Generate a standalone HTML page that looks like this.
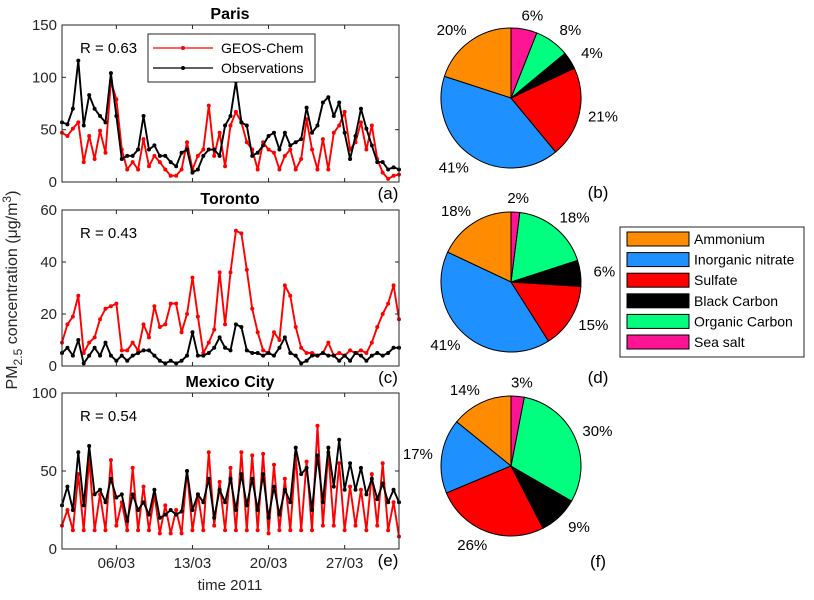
<!DOCTYPE html>
<html><head><meta charset="utf-8"><style>
body{margin:0;background:#fff}
svg{display:block;font-family:"Liberation Sans",sans-serif}
</style></head><body>
<svg id="fig" width="814" height="600" viewBox="0 0 814 600">
<rect width="814" height="600" fill="#fff"/>
<text x="17" y="290" transform="rotate(-90 17 290)" text-anchor="middle" font-size="16" fill="#262626">PM<tspan font-size="12" dy="5">2.5</tspan><tspan dy="-5"> concentration (μg/m</tspan><tspan font-size="12" dy="-6">3</tspan><tspan dy="6">)</tspan></text>
<text x="230" y="590" text-anchor="middle" font-size="15" fill="#262626">time 2011</text>
<g id="g"></g>
</svg>
<script>
const parisObs=[57,55,70,116,54,83,70,63,57,104,63,22,25,25,31,63,31,35,25,25,19,15,28,31,9,12,25,31,31,25,54,63,96,57,54,25,28,35,44,47,31,47,35,38,41,71,47,54,76,81,63,76,47,22,44,70,51,35,19,19,12,14,12];
const parisModel=[47,44,51,57,19,44,22,49,28,96,79,31,12,19,12,41,15,25,19,12,6,6,12,38,12,25,31,73,25,47,15,54,67,57,38,31,12,38,31,28,12,25,31,12,22,60,31,12,41,12,47,54,67,31,38,57,31,54,22,9,3,6,7];
const torObs=[5,7,4,10,1,4,7,4,9,4,2,4,2,4,5,6,6,4,2,1,2,1,2,4,13,4,4,5,7,11,7,6,16,15,6,5,5,4,5,4,7,11,5,4,1,2,4,4,5,4,4,2,4,2,5,4,2,4,5,4,5,7,7];
const torModel=[9,16,19,27,5,9,11,18,22,23,24,6,6,9,6,16,11,23,15,16,24,24,13,20,34,19,5,9,14,36,16,36,52,51,37,22,13,6,5,13,10,31,27,15,7,5,5,4,5,9,4,5,4,6,5,6,5,9,15,20,24,31,18];
const mexObs=[28,40,25,62,28,66,35,38,30,45,33,35,18,35,25,30,22,38,20,22,25,22,24,50,25,35,30,45,20,38,30,45,25,48,28,45,25,48,20,40,22,38,30,65,48,52,25,60,30,65,40,70,38,55,38,52,35,45,32,42,30,38,30];
const mexModel=[15,25,12,48,12,58,12,35,12,57,15,30,12,52,12,40,12,35,10,28,10,25,10,50,12,35,12,62,15,43,12,52,12,62,12,60,12,61,10,54,12,45,12,60,12,56,12,79,15,62,15,55,12,40,15,38,12,48,15,55,12,30,8];
const xTickDays=[5,12,19,26];
const xTickLabels=["06/03","13/03","20/03","27/03"];
const pieLabels=["Ammonium","Inorganic nitrate","Sulfate","Black Carbon","Organic Carbon","Sea salt"];
const pieColors=["#ff8c00","#1e90ff","#ff0000","#000000","#00ff7f","#ff1493"];
const pieB=[20,41,21,4,8,6];
const pieD=[18,41,15,6,18,2];
const pieF=[14,17,26,9,30,3];

const NS="http://www.w3.org/2000/svg";
const G=document.getElementById('g');
function mk(t,a,p){const e=document.createElementNS(NS,t);for(const k in a)e.setAttribute(k,a[k]);(p||G).appendChild(e);return e;}
const X0=62,X1=399,DAYS=31;
function xs(d){return X0+(X1-X0)*d/DAYS;}

function panel(name,top,bot,ymax,yticks,obs,model,R,tag,showX,title){
  const g=mk('g',{});
  
  
  const ys=v=>bot-(bot-top)*v/ymax;
  function series(arr,col,nm){
    const pts=arr.map((v,i)=>xs(i*0.5).toFixed(1)+','+ys(v).toFixed(1)).join(' ');
    const l=mk('polyline',{points:pts,fill:'none',stroke:col,'stroke-width':1.9,'stroke-linejoin':'round'},g);
    
    
    arr.forEach((v,i)=>{const c=mk('circle',{cx:xs(i*0.5),cy:ys(v),r:2,fill:col},g);
      
      });
  }
  series(model,'#ff0000','geos-chem');
  series(obs,'#000000','observations');
  const fr=mk('rect',{x:X0,y:top,width:X1-X0,height:bot-top,fill:'none',stroke:'#262626','stroke-width':1},g);
  
  
  yticks.forEach(v=>{const y=ys(v);
    mk('line',{x1:X0,x2:X0+4,y1:y,y2:y,stroke:'#262626'},g);
    mk('line',{x1:X1,x2:X1-4,y1:y,y2:y,stroke:'#262626'},g);
    const t=mk('text',{x:X0-5,y:y+5,'text-anchor':'end','font-size':15,fill:'#262626'},g);t.textContent=v;
    
    });
  xTickDays.forEach((d,i)=>{const x=xs(d);
    mk('line',{x1:x,x2:x,y1:bot,y2:bot-4,stroke:'#262626'},g);
    mk('line',{x1:x,x2:x,y1:top,y2:top+4,stroke:'#262626'},g);
    if(showX){const t=mk('text',{x:x,y:bot+19,'text-anchor':'middle','font-size':15,fill:'#262626'},g);t.textContent=xTickLabels[i];
      
      }});
  const tt=mk('text',{x:230,y:top-6,'text-anchor':'middle','font-size':16,'font-weight':'bold',fill:'#000'},g);tt.textContent=title;
  
  
  const rt=mk('text',{x:80,y:top+28,'font-size':15,fill:'#000'},g);rt.textContent='R = '+R;
  
  
  const tg=mk('text',{x:388,y:bot+17,'text-anchor':'middle','font-size':17,fill:'#000'},g);tg.textContent=tag;
  
  
}
panel('paris',25,182,150,[0,50,100,150],parisObs,parisModel,'0.63','(a)',false,'Paris');
panel('toronto',210,366,60,[0,20,40,60],torObs,torModel,'0.43','(c)',false,'Toronto');
panel('mexico',393,549,100,[0,50,100],mexObs,mexModel,'0.54','(e)',true,'Mexico City');

const lg=mk('g',{});


mk('rect',{x:148,y:34,width:167,height:48,fill:'#fff',stroke:'#262626'},lg);
[['GEOS-Chem','#ff0000',48],['Observations','#000',68]].forEach(([n,c,y])=>{
  mk('line',{x1:153,x2:213,y1:y,y2:y,stroke:c,'stroke-width':1.3},lg);
  mk('circle',{cx:183,cy:y,r:2,fill:c},lg);
  const t=mk('text',{x:221,y:y+5,'font-size':14,fill:'#000'},lg);t.textContent=n;
  
  
});

function pie(name,cx,cy,r,vals,tag,tagY){
  const g=mk('g',{});
  
  
  const tot=vals.reduce((a,b)=>a+b,0);
  let cum=0;
  vals.forEach((v,i)=>{
    const a0=cum/tot*2*Math.PI, a1=(cum+v)/tot*2*Math.PI; cum+=v;
    const p=a=>[cx-r*Math.sin(a),cy-r*Math.cos(a)];
    const [x0,y0]=p(a0),[x1,y1]=p(a1);
    const large=(a1-a0)>Math.PI?1:0;
    const s=mk('path',{d:`M${cx},${cy}L${x0},${y0}A${r},${r} 0 ${large} 0 ${x1},${y1}Z`,fill:pieColors[i],stroke:'#000','stroke-width':1},g);
    
    
    const am=(a0+a1)/2, sx=-Math.sin(am), sy=-Math.cos(am);
    const R=1.2*r;
    const off=Math.sign(sx)*10*Math.min(1,Math.abs(sx)*3);
    const t=mk('text',{x:cx+R*sx+off,y:cy+R*sy+5,'text-anchor':'middle','font-size':15,fill:'#000'},g);
    t.textContent=Math.round(v/tot*100)+'%';
    
    
  });
  const tg=mk('text',{x:598,y:tagY,'text-anchor':'middle','font-size':17,fill:'#000'},g);tg.textContent=tag;
  
  
}
pie('pie-paris',511,98,70,pieB,'(b)',198);
pie('pie-toronto',511,282,70,pieD,'(d)',383);
pie('pie-mexico',511,466,70,pieF,'(f)',567);

const cl=mk('g',{});


mk('rect',{x:620,y:227,width:184,height:130,fill:'#fff',stroke:'#262626'},cl);
pieLabels.forEach((n,i)=>{const y=239+i*20.6;
  const sw=mk('rect',{x:627,y:y-7,width:62,height:14,fill:pieColors[i],stroke:'#000'},cl);
  
  
  const t=mk('text',{x:694,y:y+5,'font-size':14,fill:'#000'},cl);t.textContent=n;
  
  
});
</script>
</body></html>
